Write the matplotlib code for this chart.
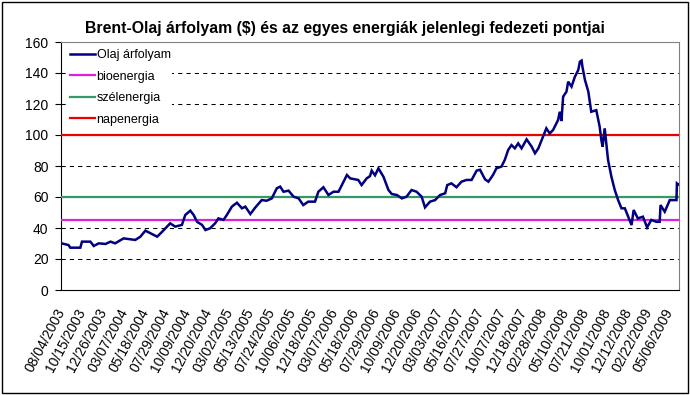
import matplotlib
matplotlib.use('Agg')
import matplotlib.pyplot as plt

# x tengely feliratai (minden 50. kereskedési nap)
tick_labels = [
    "08/04/2003", "10/15/2003", "12/26/2003", "03/07/2004", "05/18/2004",
    "07/29/2004", "10/09/2004", "12/20/2004", "03/02/2005", "05/13/2005",
    "07/24/2005", "10/06/2005", "12/18/2005", "03/07/2006", "05/18/2006",
    "07/29/2006", "10/09/2006", "12/20/2006", "03/03/2007", "05/16/2007",
    "07/27/2007", "10/07/2007", "12/18/2007", "02/28/2008", "05/10/2008",
    "07/21/2008", "10/01/2008", "12/12/2008", "02/22/2009", "05/06/2009",
]
tick_step = 50

# Brent olajár ($), kereskedési nap index szerint
oil_day = [
    0, 17, 21, 45, 49, 69, 77, 89, 105, 117, 128, 148, 176, 188, 200, 212,
    228, 240, 259, 271, 287, 295, 307, 315, 323, 335, 343, 354, 366, 374,
    386, 394, 406, 418, 430, 438, 450, 462, 477, 489, 501, 513, 521, 529,
    541, 553, 565, 576, 588, 604, 612, 624, 636, 648, 660, 668, 680, 688,
    707, 715, 727, 735, 739, 747, 755, 767, 779, 787, 799, 811, 822, 834,
    846, 858, 866, 878, 890, 902, 914, 919, 929, 941, 953, 965, 977, 989,
    997, 1009, 1017, 1028, 1036, 1048, 1056, 1064, 1072, 1080, 1088, 1096,
    1108, 1120, 1128, 1136, 1144, 1155, 1163, 1171, 1183, 1187, 1191, 1195,
    1203, 1207, 1215, 1223, 1231, 1235, 1239, 1241, 1247, 1255, 1262, 1274,
    1282, 1286, 1289, 1294, 1302, 1310, 1318, 1326, 1334, 1342, 1350, 1358,
    1363, 1373, 1385, 1395, 1405, 1417, 1425, 1427, 1437, 1449, 1465, 1466,
    1470,
]
oil_price = [
    30.1, 29.0, 27.3, 27.3, 31.2, 31.2, 28.4, 30.1, 29.7, 31.2, 30.1, 33.3,
    32.3, 34.4, 38.3, 36.6, 34.4, 37.6, 43.0, 40.9, 42.0, 48.4, 51.2, 48.4,
    44.0, 42.0, 38.7, 39.8, 43.0, 46.2, 45.2, 48.4, 53.8, 56.3, 52.7, 53.8,
    49.0, 53.3, 58.0, 57.6, 59.1, 65.6, 66.7, 63.4, 64.1, 60.2, 59.1, 54.8,
    57.0, 57.0, 63.4, 66.3, 61.3, 63.4, 63.4, 67.7, 74.2, 72.0, 71.0, 67.7,
    72.0, 73.5, 77.0, 74.0, 78.5, 73.1, 64.5, 61.9, 61.3, 59.1, 60.2, 64.5,
    63.4, 60.2, 53.3, 57.0, 58.0, 61.3, 62.4, 67.7, 68.8, 66.3, 69.9, 71.0,
    71.0, 77.0, 77.6, 71.4, 69.9, 74.2, 78.5, 79.6, 83.9, 90.3, 93.5, 91.4,
    94.6, 91.4, 97.2, 92.5, 88.2, 91.4, 96.8, 104.3, 101.0, 103.2, 109.7,
    115.0, 109.0, 124.7, 128.0, 134.4, 131.2, 137.6, 141.9, 147.3, 148.0,
    144.0, 135.5, 128.0, 115.0, 116.0, 105.4, 96.8, 92.5, 104.3, 83.9, 73.1,
    64.5, 58.0, 52.7, 52.7, 47.3, 41.9, 51.6, 46.2, 47.3, 40.4, 45.2, 44.0,
    44.0, 54.8, 50.5, 58.0, 58.0, 68.8, 68.0,
]

# fedezeti pontok ($)
breakeven_names = ["bioenergia", "szélenergia", "napenergia"]
breakeven_values = [45, 60, 100]
breakeven_colors = ["#E020E0", "#339966", "#EE0000"]

plt.rcParams['font.family'] = ['Liberation Sans', 'DejaVu Sans']

fig = plt.figure(figsize=(6.9, 3.95), dpi=100)
ax = fig.add_axes([61 / 690, 1 - 290 / 395, 618 / 690, 248 / 395])

ax.plot(oil_day, oil_price, color='#000080', lw=1.8, label='Olaj árfolyam',
        zorder=4, solid_joinstyle='miter')
for name, val, col in zip(breakeven_names, breakeven_values, breakeven_colors):
    ax.axhline(val, color=col, lw=1.6, label=name, zorder=3)

n_days = oil_day[-1]
ax.set_xlim(-1, n_days + 1)
ax.set_ylim(0, 160)
ax.set_yticks(range(0, 161, 20))
for y in range(20, 160, 20):
    ax.axhline(y, color='black', lw=0.75, dashes=(4, 4), zorder=1)

ticks = [i * tick_step for i in range(len(tick_labels))]
ax.set_xticks(ticks)
ax.set_xticklabels(tick_labels, rotation=62, ha='right', va='center',
                   rotation_mode='anchor', fontsize=10)
ax.tick_params(axis='x', length=0, pad=14)
ax.tick_params(axis='y', length=4, direction='out', pad=5, labelsize=10)

for side in ['top', 'right']:
    ax.spines[side].set_color('#808080')
ax.spines['left'].set_color('black')
ax.spines['bottom'].set_color('black')

leg = ax.legend(loc='upper left', bbox_to_anchor=(0.012, 0.975), frameon=True,
                fontsize=9, handlelength=2.0, handletextpad=0.15, labelspacing=0.75,
                borderpad=0.1, borderaxespad=0, fancybox=False)
leg.get_frame().set_facecolor('white')
leg.get_frame().set_edgecolor('none')
leg.get_frame().set_alpha(1)
leg.set_zorder(5)

fig.text(345 / 690, 1 - 33 / 395,
         "Brent-Olaj árfolyam ($) és az egyes energiák jelenlegi fedezeti pontjai",
         ha='center', va='baseline', fontsize=11.4, fontweight='bold')

fig.patches.append(plt.Rectangle((1.5 / 690, 2.5 / 395), 686 / 690, 391 / 395,
                                 transform=fig.transFigure, fill=False,
                                 edgecolor='black', lw=1))

plt.savefig('out.png', dpi=100)
plt.close()
